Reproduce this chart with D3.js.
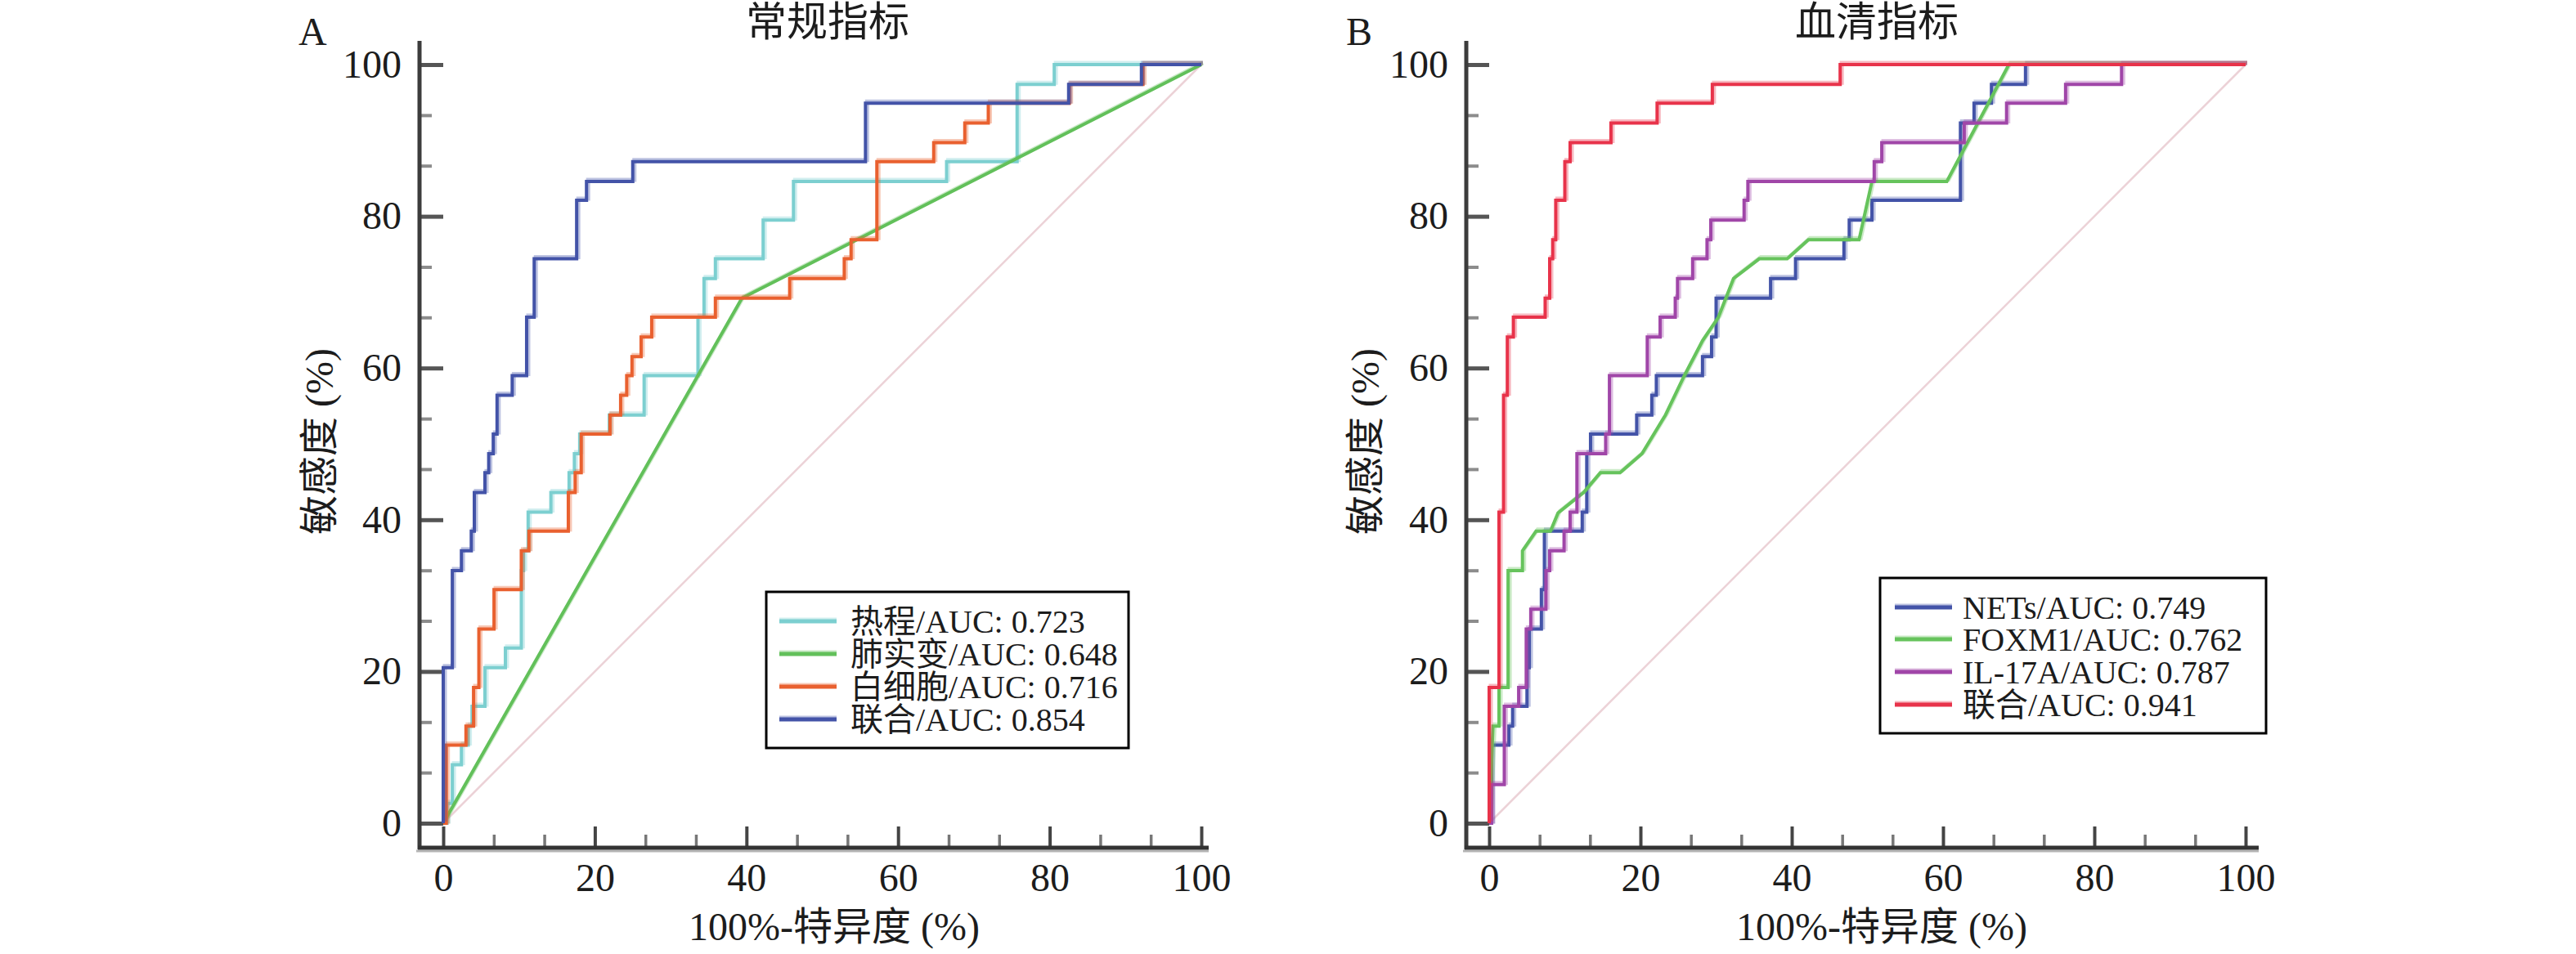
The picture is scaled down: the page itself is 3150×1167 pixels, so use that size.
<!DOCTYPE html>
<html>
<head>
<meta charset="utf-8">
<script src="https://d3js.org/d3.v7.min.js"></script>
<style>
  body { margin: 0; background: #fff; }
  svg text { font-family: "Liberation Serif", "Noto Sans CJK SC", serif; fill: #1c1c1c; }
</style>
</head>
<body>
<svg id="chart" width="3150" height="1167"></svg>
<script>
  // tick values (%)
  var majorTicks = [0, 20, 40, 60, 80, 100];
  var minorTicks = [6.67, 13.33, 26.67, 33.33, 46.67, 53.33, 66.67, 73.33, 86.67, 93.33];

  // Panel A: 常规指标  ([1-specificity, sensitivity] in %, step points)
  var rocFever = [[0,0],[0.5,2.6],[1.2,7.7],[2.4,10.3],[3.3,12.8],[3.8,15.4],[5.5,20.5],[8.2,23.1],
    [10.3,33.3],[10.6,35.9],[11.2,41.0],[14.2,43.6],[16.6,46.2],[17.3,48.7],[18.0,51.3],[21.9,53.8],
    [26.5,59.0],[33.6,66.7],[34.4,71.8],[35.9,74.4],[42.2,79.5],[46.2,84.6],[66.4,87.2],[75.7,97.4],
    [80.6,100],[100,100]];
  var rocConsolidation = [[0,0],[39.4,69.2],[100,100]];
  var rocWbc = [[0,0],[0.4,10.3],[3.0,12.8],[4.0,17.9],[4.7,25.6],[6.7,30.8],[10.3,35.9],[11.3,38.5],
    [16.5,43.6],[17.4,46.2],[18.2,51.3],[22.0,53.8],[23.4,56.4],[24.2,59.0],[24.9,61.5],[26.1,64.1],
    [27.5,66.7],[35.9,69.2],[45.7,71.8],[52.9,74.4],[53.8,76.9],[57.2,87.2],[64.7,89.7],[68.8,92.3],
    [71.9,94.9],[82.6,97.4],[92.3,100],[100,100]];
  var rocCombinedA = [[0,0],[0,20.5],[1.2,33.3],[2.4,35.9],[3.7,38.5],[4.1,43.6],[5.5,46.2],[6.0,48.7],
    [6.6,51.3],[7.1,56.4],[9.1,59.0],[11.0,66.7],[12.0,74.4],[17.6,82.1],[18.9,84.6],[25.0,87.2],
    [55.7,94.9],[82.5,97.4],[92.1,100],[100,100]];

  // Panel B: 血清指标
  var rocNets = [[0,0],[0.3,10.3],[2.6,12.8],[3.1,15.4],[5.0,20.5],[5.3,25.6],[6.9,30.8],[7.3,38.5],
    [12.3,41.0],[12.9,48.7],[13.4,51.3],[19.5,53.8],[21.5,56.4],[22.1,59.0],[28.2,61.5],[29.4,64.1],
    [30.0,69.2],[37.2,71.8],[40.5,74.4],[46.9,76.9],[47.6,79.5],[50.6,82.1],[62.3,92.3],[64.1,94.9],
    [66.4,97.4],[70.9,100],[100,100]];
  var rocFoxm1 = [[0,0],[0.3,7.7],[0.5,12.8],[1.3,12.8],[1.3,17.9],[2.5,17.9],[2.5,33.3],[4.4,33.3],
    [4.4,35.9],[6.2,38.5],[8.1,38.5],[9.1,40.9],[11.1,42.5],[12.5,43.6],[14.7,46.2],[17.3,46.2],
    [20.2,48.7],[23.3,53.8],[25.8,59.0],[28.2,63.6],[30.3,66.7],[32.3,71.8],[35.7,74.4],[39.4,74.4],
    [42.2,76.9],[48.9,76.9],[50.6,84.6],[60.5,84.6],[68.7,100],[100,100]];
  var rocIl17a = [[0,0],[0.3,5.1],[2.0,15.4],[3.9,17.9],[4.9,25.6],[5.5,28.2],[7.5,33.3],[8.0,35.9],
    [9.9,38.5],[10.7,41.0],[11.6,48.7],[15.4,51.3],[15.9,59.0],[20.9,64.1],[22.6,66.7],[24.6,69.2],
    [24.9,71.8],[26.9,74.4],[28.8,76.9],[29.3,79.5],[33.7,82.1],[34.2,84.6],[50.9,87.2],[51.9,89.7],
    [62.8,92.3],[68.4,94.9],[76.2,97.4],[83.6,100],[100,100]];
  var rocCombinedB = [[0,0],[0,17.9],[1.3,41.0],[1.9,56.4],[2.4,64.1],[3.2,66.7],[7.4,69.2],[8.0,74.4],
    [8.4,76.9],[8.8,82.1],[10.0,87.2],[10.7,89.7],[16.1,92.3],[22.2,94.9],[29.5,97.4],[46.4,100],[100,100]];

  var diagonal = [[0,0],[100,100]];

  var legendA = ["热程/AUC: 0.723", "肺实变/AUC: 0.648", "白细胞/AUC: 0.716", "联合/AUC: 0.854"];
  var legendB = ["NETs/AUC: 0.749", "FOXM1/AUC: 0.762", "IL-17A/AUC: 0.787", "联合/AUC: 0.941"];

  var svg = d3.select("#chart");

  var panels = [
    {
      letter: "A", title: "常规指标",
      left: 542, right: 1469, axisX: 513, axisEnd: 1478, titleX: 1012, letterX: 365,
      yLabelX: 390, xLabelX: 1020,
      series: [
        {data: rocFever, color: "#7ccfd0", step: true},
        {data: rocConsolidation, color: "#62c05a", step: false},
        {data: rocWbc, color: "#e9602f", step: true},
        {data: rocCombinedA, color: "#4353a8", step: true}
      ],
      legend: legendA,
      box: {x: 937, y: 724, w: 443, h: 191}, sampleX: 953, textX: 1040, rows: [760, 800, 840, 880]
    },
    {
      letter: "B", title: "血清指标",
      left: 1821, right: 2746, axisX: 1793, axisEnd: 2762, titleX: 2295, letterX: 1646,
      yLabelX: 1669, xLabelX: 2301,
      series: [
        {data: rocNets, color: "#4353a8", step: true},
        {data: rocFoxm1, color: "#66c35c", step: false},
        {data: rocIl17a, color: "#a046a8", step: true},
        {data: rocCombinedB, color: "#e8334a", step: true}
      ],
      legend: legendB,
      box: {x: 2299, y: 707, w: 472, h: 190}, sampleX: 2317, textX: 2400, rows: [743, 782, 822, 862]
    }
  ];

  var plotTop = 79, plotBottom = 1007, axisY = 1037, axisTop = 50;

  panels.forEach(function(p) {
    var x = d3.scaleLinear().domain([0, 100]).range([p.left, p.right]);
    var y = d3.scaleLinear().domain([0, 100]).range([plotBottom, plotTop]);
    var g = svg.append("g");

    // minor ticks
    var yMinor = g.append("g")
      .attr("transform", "translate(" + p.axisX + ",0)")
      .call(d3.axisLeft(y).tickValues(minorTicks).tickSize(-15).tickFormat(""));
    yMinor.selectAll(".tick line").attr("stroke", "#8c8c8c").attr("stroke-width", 4);
    var xMinor = g.append("g")
      .attr("transform", "translate(0," + axisY + ")")
      .call(d3.axisBottom(x).tickValues(minorTicks).tickSize(-16).tickFormat(""));
    xMinor.selectAll(".tick line").attr("stroke", "#777").attr("stroke-width", 3.5);

    // major ticks + labels
    var yAxis = g.append("g")
      .attr("transform", "translate(" + p.axisX + ",0)")
      .call(d3.axisLeft(y).tickValues(majorTicks).tickSize(-(p.left - p.axisX)).tickPadding(22));
    yAxis.selectAll(".tick line").attr("stroke", "#555").attr("stroke-width", 5);
    var xAxis = g.append("g")
      .attr("transform", "translate(0," + axisY + ")")
      .call(d3.axisBottom(x).tickValues(majorTicks).tickSize(-26).tickPadding(19));
    xAxis.selectAll(".tick line").attr("stroke", "#444").attr("stroke-width", 4);

    [yMinor, xMinor, yAxis, xAxis].forEach(function(a) {
      a.select(".domain").remove();
      a.attr("font-family", null).attr("font-size", null);
    });
    g.selectAll(".tick text").attr("fill", "#1c1c1c").style("font-size", "48px");

    // axis lines
    g.append("line").attr("x1", p.axisX - 4).attr("x2", p.axisEnd)
      .attr("y1", axisY + 4).attr("y2", axisY + 4)
      .attr("stroke", "#b4b4b4").attr("stroke-width", 3);
    g.append("line").attr("x1", p.axisX).attr("x2", p.axisX)
      .attr("y1", axisTop).attr("y2", axisY + 2)
      .attr("stroke", "#3c3c3c").attr("stroke-width", 5);
    g.append("line").attr("x1", p.axisX - 2).attr("x2", p.axisEnd)
      .attr("y1", axisY).attr("y2", axisY)
      .attr("stroke", "#333").attr("stroke-width", 5);

    // reference diagonal
    var lineLinear = d3.line().x(function(d) { return x(d[0]); }).y(function(d) { return y(d[1]); });
    var lineStep = d3.line().x(function(d) { return x(d[0]); }).y(function(d) { return y(d[1]); })
      .curve(d3.curveStepAfter);

    g.append("path").datum(diagonal)
      .attr("d", lineLinear)
      .attr("fill", "none").attr("stroke", "#ecd2d7").attr("stroke-width", 2.5);

    // curves: light halo then the line itself
    p.series.forEach(function(s) {
      var gen = s.step ? lineStep : lineLinear;
      g.append("path").datum(s.data)
        .attr("d", gen)
        .attr("transform", "translate(2,-2)")
        .attr("fill", "none").attr("stroke", s.color)
        .attr("stroke-opacity", 0.35).attr("stroke-width", 5);
      g.append("path").datum(s.data)
        .attr("d", gen)
        .attr("fill", "none").attr("stroke", s.color)
        .attr("stroke-width", 4);
    });

    // titles and labels
    g.append("text").attr("x", p.titleX).attr("y", 44)
      .attr("text-anchor", "middle").style("font-size", "50px").text(p.title);
    g.append("text").attr("x", p.letterX).attr("y", 55)
      .style("font-size", "48px").text(p.letter);
    g.append("text")
      .attr("transform", "translate(" + p.yLabelX + "," + 540 + ") rotate(-90)")
      .attr("text-anchor", "middle").attr("dy", "0.35em")
      .style("font-size", "48px").text("敏感度 (%)");
    g.append("text").attr("x", p.xLabelX).attr("y", 1150)
      .attr("text-anchor", "middle").style("font-size", "48px").text("100%-特异度 (%)");

    // legend
    var lg = g.append("g");
    lg.append("rect").attr("x", p.box.x).attr("y", p.box.y)
      .attr("width", p.box.w).attr("height", p.box.h)
      .attr("fill", "#fff").attr("stroke", "#000").attr("stroke-width", 3);
    p.series.forEach(function(s, i) {
      lg.append("line").attr("x1", p.sampleX).attr("x2", p.sampleX + 70)
        .attr("y1", p.rows[i] - 2).attr("y2", p.rows[i] - 2)
        .attr("stroke", s.color).attr("stroke-opacity", 0.35).attr("stroke-width", 5);
      lg.append("line").attr("x1", p.sampleX).attr("x2", p.sampleX + 70)
        .attr("y1", p.rows[i]).attr("y2", p.rows[i])
        .attr("stroke", s.color).attr("stroke-width", 5);
      lg.append("text").attr("x", p.textX).attr("y", p.rows[i])
        .attr("dy", "0.36em").style("font-size", "40px").text(p.legend[i]);
    });
  });
</script>
</body>
</html>
